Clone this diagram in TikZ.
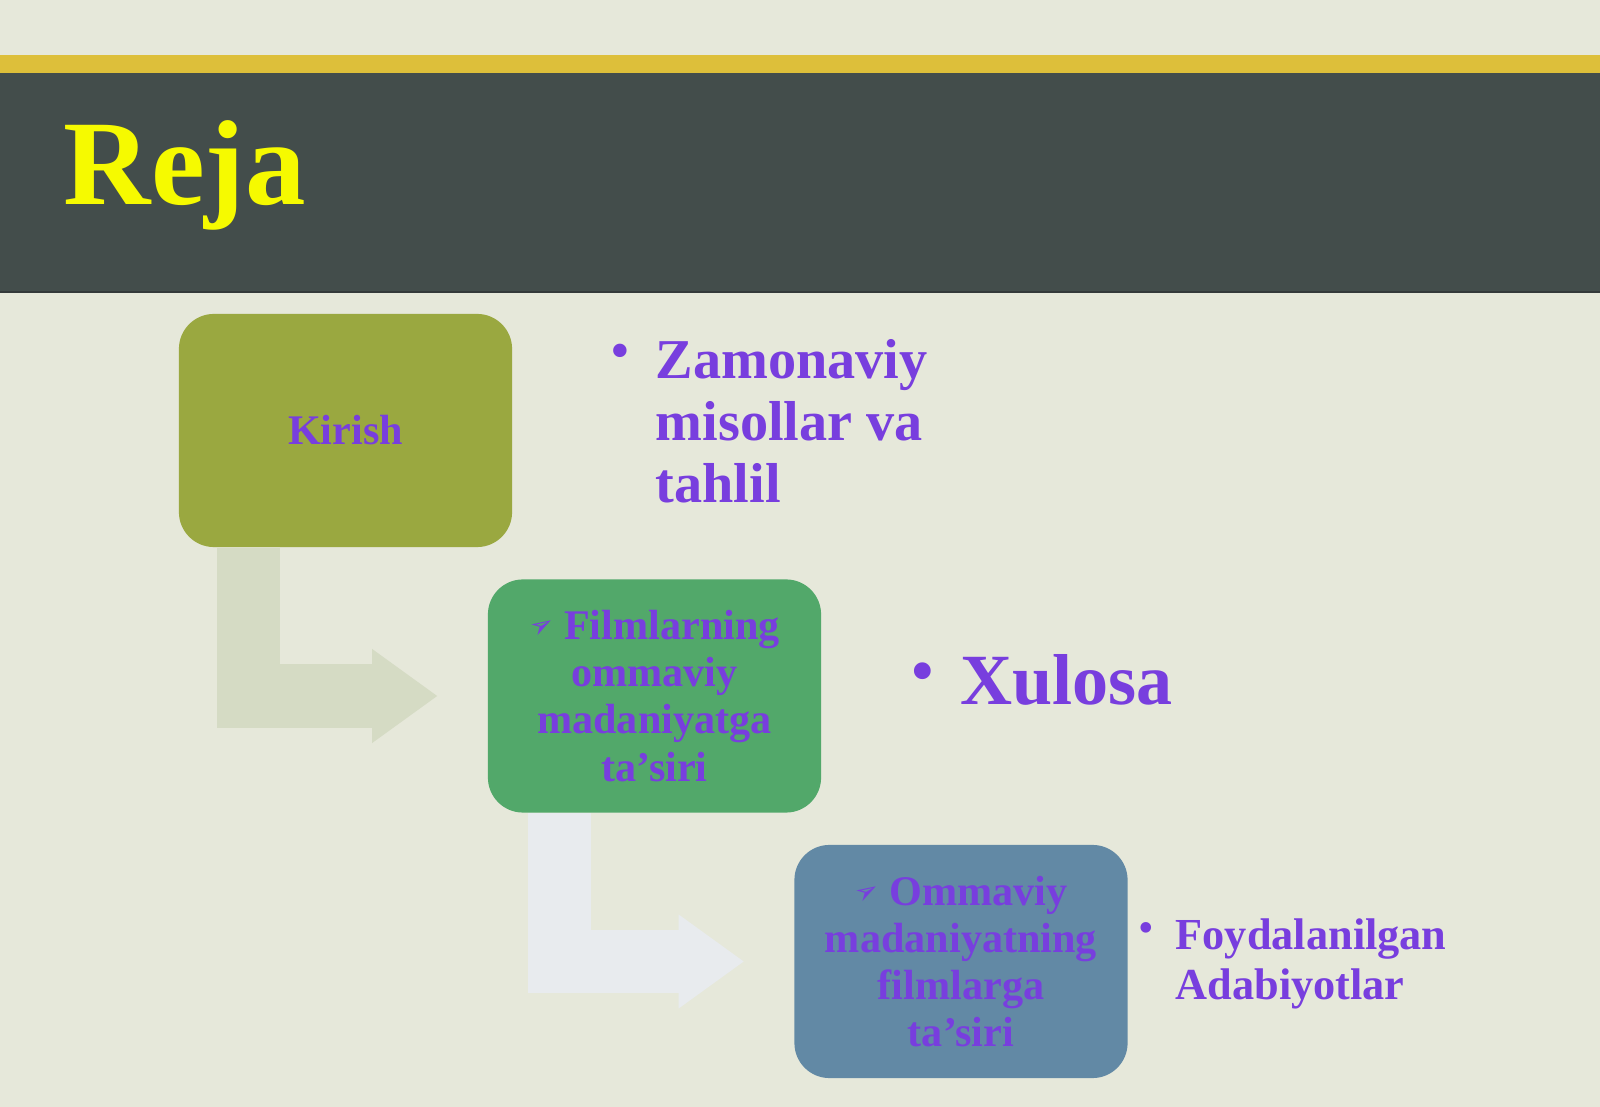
\documentclass[tikz,border=0pt]{standalone}
\usepackage{fontspec}
\setmainfont{Liberation Serif}
\newfontfamily\symfont{DejaVu Sans}
\usetikzlibrary{arrows.meta}

\definecolor{slidebg}{RGB}{230,232,218}
\definecolor{goldbar}{RGB}{221,191,58}
\definecolor{chalk}{RGB}{67,77,75}
\definecolor{chalkline}{RGB}{52,58,58}
\definecolor{titleyellow}{RGB}{246,250,0}
\definecolor{olivebox}{RGB}{154,168,64}
\definecolor{greenbox}{RGB}{82,168,106}
\definecolor{bluebox}{RGB}{98,137,165}
\definecolor{purpletext}{RGB}{120,62,222}
\definecolor{arrowone}{RGB}{213,219,196}
\definecolor{arrowtwo}{RGB}{232,235,238}

\begin{document}
\begin{tikzpicture}[x=0.01cm, y=-0.01cm,
    planbox/.style={rectangle, rounded corners=0.35cm, minimum width=3.33cm, minimum height=2.33cm, inner sep=0pt, align=center, text=purpletext, font=\bfseries\fontsize{12}{13.4}\selectfont},
    bendarrow/.style={line width=0.63cm, line join=miter, -{Triangle[length=0.65cm, width=0.94cm, line width=0pt]}},
    itemtext/.style={anchor=north west, inner sep=0pt, align=left, text=purpletext},
    itemdot/.style={inner sep=0pt, text=purpletext}
]
\useasboundingbox (0,0) rectangle (1600,1107);

% Slide background and header band
\fill[slidebg] (0,0) rectangle (1600,1107);
\fill[goldbar] (0,55) rectangle (1600,73);
\fill[chalk] (0,73) rectangle (1600,293);
\draw[chalkline, line width=0.6pt] (0,292) -- (1600,292);
\node[anchor=base west, inner sep=0pt, text=titleyellow, font=\bfseries\fontsize{34.4}{40}\selectfont] (title) at (63,205) {Reja};

% Plan boxes
\node[planbox, fill=olivebox] (kirish) at (345.5,430.5) {Kirish};
\node[planbox, fill=greenbox] (film) at (654.5,696) {{\symfont\footnotesize\rotatebox{30}{➢}}\,Filmlarning\\ommaviy\\madaniyatga\\ta'siri};
\node[planbox, fill=bluebox] (omma) at (961,961.5) {{\symfont\footnotesize\rotatebox{30}{➢}}\,Ommaviy\\madaniyatning\\filmlarga\\ta'siri};

% Bent arrows between boxes
\draw[bendarrow, arrowone] ([xshift=0.70cm]kirish.south west) |- ([xshift=-0.5cm]film.west);
\draw[bendarrow, arrowtwo] ([xshift=0.72cm]film.south west) |- ([xshift=-0.5cm]omma.west);

% Bullet items
\node[itemdot, font=\fontsize{16}{16}\selectfont] (misoldot) at (620,357) {\textbullet};
\node[itemtext, font=\bfseries\fontsize{16}{17.6}\selectfont] (misol) at (655,339) {Zamonaviy\\misollar va\\tahlil};
\node[itemdot, font=\fontsize{20}{20}\selectfont] (xulosadot) at (923,679) {\textbullet};
\node[anchor=base west, inner sep=0pt, text=purpletext, font=\bfseries\fontsize{20.5}{24}\selectfont] (xulosa) at (960,705) {Xulosa};
\node[itemdot, font=\fontsize{12.6}{12.6}\selectfont] (adabdot) at (1146,933) {\textbullet};
\node[itemtext, font=\bfseries\fontsize{12.6}{14.2}\selectfont] (adab) at (1175,918) {Foydalanilgan\\Adabiyotlar};

\end{tikzpicture}
\end{document}
